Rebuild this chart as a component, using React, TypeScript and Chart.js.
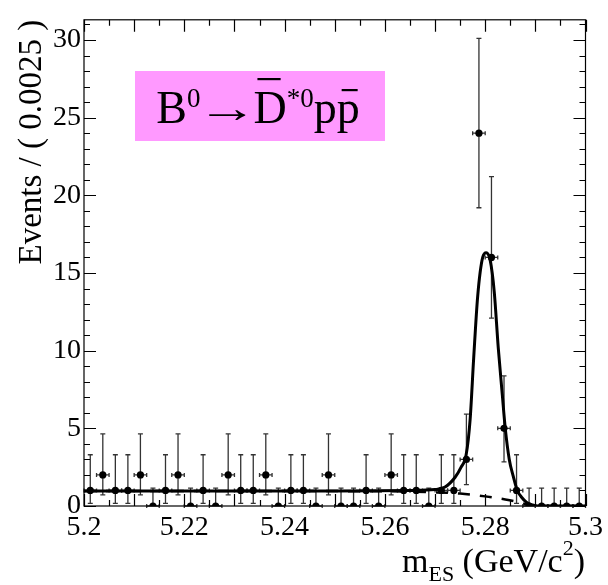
import React, { useEffect, useRef } from "react";
import { Chart, registerables } from "chart.js";

Chart.register(...registerables);

// ---- data ----
const binStart = 5.2;
const binWidth = 0.0025;
const counts = [
  1, 2, 1, 1, 2, 0, 1, 2, 0, 1,
  0, 2, 1, 1, 2, 0, 1, 1, 0, 2,
  0, 0, 1, 0, 2, 1, 1, 0, 1, 1,
  3, 24, 16, 5, 1, 0, 0, 0, 0, 0,
];
// Poisson error-bar ends, by bin count
const errLowByCount: Record<number, number> = { 0: 0, 1: 0.17, 2: 0.71, 3: 1.37, 5: 2.84, 16: 12.1, 24: 19.2 };
const errHighByCount: Record<number, number> = { 0: 1.15, 1: 3.3, 2: 4.64, 3: 5.92, 5: 8.38, 16: 21.2, 24: 30.1 };

// total fit (solid)
const fitX = [5.2, 5.25, 5.265, 5.27, 5.272, 5.274, 5.2752, 5.2762, 5.277, 5.2777, 5.2785, 5.2795, 5.2802, 5.281, 5.2818, 5.2826, 5.2834, 5.284, 5.2848, 5.2856, 5.2864, 5.2873, 5.2882, 5.2892, 5.2905, 5.3];
const fitY = [0.97, 0.97, 1.0, 1.06, 1.22, 1.85, 2.5, 3.3, 5.6, 9.5, 13.5, 16.0, 16.3, 15.8, 13.8, 10.2, 7.2, 5.0, 3.0, 1.9, 1.0, 0.55, 0.25, 0.08, 0, 0];
// background (dashed)
const bkgX = [5.2, 5.26, 5.27, 5.275, 5.28, 5.284, 5.287, 5.2885, 5.2895, 5.3];
const bkgY = [0.97, 0.95, 0.88, 0.8, 0.62, 0.42, 0.22, 0.08, 0, 0];

const xTickValues = [5.2, 5.22, 5.24, 5.26, 5.28, 5.3];
const xTickLabels = ["5.2", "5.22", "5.24", "5.26", "5.28", "5.3"];
const yTickValues = [0, 5, 10, 15, 20, 25, 30];
const yTickLabels = ["0", "5", "10", "15", "20", "25", "30"];

const yAxisTitle = "Events / ( 0.0025 )";
const SERIF = "Liberation Serif";

Chart.defaults.font.family = SERIF;

const decoPlugin = {
  id: "deco",
  beforeDatasetsDraw(chart: any) {
    const { ctx, scales } = chart;
    const xs = scales.x, ys = scales.y;
    ctx.save();
    ctx.strokeStyle = "#333";
    ctx.lineWidth = 1.3;
    counts.forEach((c, i) => {
      const xc = binStart + (i + 0.5) * binWidth;
      const px = xs.getPixelForValue(xc);
      const lo = ys.getPixelForValue(errLowByCount[c]);
      const hi = ys.getPixelForValue(errHighByCount[c]);
      const py = ys.getPixelForValue(c);
      const xl = xs.getPixelForValue(xc - binWidth / 2);
      const xr = xs.getPixelForValue(xc + binWidth / 2);
      ctx.beginPath();
      ctx.moveTo(px, lo); ctx.lineTo(px, hi);
      ctx.moveTo(px - 2.5, hi); ctx.lineTo(px + 2.5, hi);
      ctx.moveTo(px - 2.5, lo); ctx.lineTo(px + 2.5, lo);
      ctx.moveTo(xl, py); ctx.lineTo(xr, py);
      ctx.moveTo(xl, py - 2); ctx.lineTo(xl, py + 2);
      ctx.moveTo(xr, py - 2); ctx.lineTo(xr, py + 2);
      ctx.stroke();
    });
    ctx.restore();
  },
  afterDraw(chart: any) {
    const { ctx, scales, chartArea } = chart;
    const xs = scales.x, ys = scales.y;
    const { left, right, top, bottom } = chartArea;
    ctx.save();
    // frame
    ctx.strokeStyle = "#000";
    ctx.lineWidth = 1.2;
    ctx.strokeRect(left, top, right - left, bottom - top);
    // y ticks (both sides, inward)
    ctx.beginPath();
    for (let v = 0; v <= 31; v += 1) {
      const py = Math.round(ys.getPixelForValue(v)) + 0.5;
      const len = v % 5 === 0 ? 12 : 6;
      ctx.moveTo(left, py); ctx.lineTo(left + len, py);
      ctx.moveTo(right, py); ctx.lineTo(right - len, py);
    }
    // x ticks (both sides, inward)
    for (let k = 0; k <= 20; k++) {
      const v = 5.2 + k * 0.005;
      const px = Math.round(xs.getPixelForValue(v)) + 0.5;
      const len = k % 2 === 0 ? 12 : 6;
      ctx.moveTo(px, bottom); ctx.lineTo(px, bottom - len);
      ctx.moveTo(px, top); ctx.lineTo(px, top + len);
    }
    ctx.stroke();

    // y axis title
    ctx.fillStyle = "#000";
    ctx.font = `33px ${SERIF}`;
    ctx.save();
    ctx.translate(41, top);
    ctx.rotate(-Math.PI / 2);
    ctx.textAlign = "right";
    ctx.textBaseline = "alphabetic";
    ctx.fillText(yAxisTitle, 0, 0);
    ctx.restore();

    // x axis title: m_ES (GeV/c^2), right aligned
    const parts = [
      { t: "m", s: 34, dy: 0 },
      { t: "ES", s: 22, dy: 9 },
      { t: " (GeV/c", s: 34, dy: 0 },
      { t: "2", s: 22, dy: -17 },
      { t: ")", s: 34, dy: 0 },
    ];
    let total = 0;
    parts.forEach((p) => { ctx.font = `${p.s}px ${SERIF}`; total += ctx.measureText(p.t).width; });
    let x = 585 - total;
    const base = 572;
    ctx.textAlign = "left";
    parts.forEach((p) => {
      ctx.font = `${p.s}px ${SERIF}`;
      ctx.fillText(p.t, x, base + p.dy);
      x += ctx.measureText(p.t).width;
    });

    // decay label box
    ctx.fillStyle = "#ff99ff";
    ctx.fillRect(135, 71, 250, 70);
    ctx.fillStyle = "#000";
    const F = 46;
    const tb = 123;
    const tp = [
      { t: "B", s: F, dy: 0, bar: 0, sx: 1, pre: 0, gap: 0 },
      { t: "0", s: 27, dy: -16, bar: 0, sx: 1, pre: 0, gap: 0 },
      { t: "\u2192", s: 42, dy: -1, bar: 0, sx: 1.45, pre: -4, gap: -4 },
      { t: "D", s: F, dy: 0, bar: 1, sx: 1, pre: 0, gap: 0 },
      { t: "*0", s: 27, dy: -16, bar: 0, sx: 1, pre: 0, gap: 0 },
      { t: "p", s: F, dy: 0, bar: 0, sx: 1, pre: 0, gap: 0 },
      { t: "p", s: F, dy: 0, bar: 2, sx: 1, pre: 0, gap: 0 },
    ];
    let w = 0;
    tp.forEach((p) => { ctx.font = `${p.s}px ${SERIF}`; w += ctx.measureText(p.t).width * p.sx + p.pre + p.gap; });
    let tx = 258 - w / 2;
    tp.forEach((p) => {
      ctx.font = `${p.s}px ${SERIF}`;
      const mw = ctx.measureText(p.t).width;
      tx += p.pre;
      ctx.save();
      ctx.translate(tx, tb + p.dy);
      ctx.scale(p.sx, 1);
      ctx.fillText(p.t, 0, 0);
      ctx.restore();
      if (p.bar === 1) ctx.fillRect(tx + 4, tb - 45, mw - 10, 2.2);
      if (p.bar === 2) ctx.fillRect(tx + 5, tb - 34, mw - 7, 2.2);
      tx += mw * p.sx + p.gap;
    });
    ctx.restore();
  },
};

export default function App() {
  const ref = useRef<HTMLCanvasElement | null>(null);
  useEffect(() => {
    if (!ref.current) return;
    const points = counts.map((c, i) => ({ x: binStart + (i + 0.5) * binWidth, y: c }));
    const tickFont = { family: SERIF, size: 28, style: "normal" as const, weight: "normal" as const, lineHeight: 1.2 };
    const chart = new Chart(ref.current, {
      type: "scatter",
      data: {
        datasets: [
          {
            data: points,
            showLine: false,
            pointRadius: 3.6,
            pointBackgroundColor: "#000",
            pointBorderColor: "#000",
            pointBorderWidth: 0,
          } as any,
          {
            type: "line",
            data: fitX.map((x, i) => ({ x, y: fitY[i] })),
            borderColor: "#000",
            borderWidth: 3,
            pointRadius: 0,
            cubicInterpolationMode: "monotone",
            fill: false,
          } as any,
          {
            type: "line",
            data: bkgX.map((x, i) => ({ x, y: bkgY[i] })),
            borderColor: "#000",
            borderWidth: 2.5,
            borderDash: [12, 10],
            pointRadius: 0,
            cubicInterpolationMode: "monotone",
            fill: false,
          } as any,
        ],
      },
      options: {
        responsive: false,
        animation: false,
        events: [],
        layout: { padding: { top: 14, right: 21, left: 0, bottom: 0 } },
        plugins: { legend: { display: false }, tooltip: { enabled: false }, title: { display: false } },
        scales: {
          x: {
            type: "linear",
            min: 5.2,
            max: 5.3,
            grid: { display: false, drawTicks: false },
            border: { display: false },
            afterBuildTicks: (s: any) => { s.ticks = xTickValues.map((v) => ({ value: v })); },
            afterFit: (s: any) => { s.height = 79; },
            ticks: {
              autoSkip: false,
              maxRotation: 0,
              padding: 5,
              color: "#000",
              font: tickFont,
              callback: (_v: any, i: number) => xTickLabels[i],
            },
          },
          y: {
            type: "linear",
            min: 0,
            max: 31.3,
            grid: { display: false, drawTicks: false },
            border: { display: false },
            afterBuildTicks: (s: any) => { s.ticks = yTickValues.map((v) => ({ value: v })); },
            afterFit: (s: any) => { s.width = 84; },
            ticks: {
              autoSkip: false,
              padding: 3,
              color: "#000",
              font: tickFont,
              callback: (_v: any, i: number) => yTickLabels[i],
            },
          },
        },
      },
      plugins: [decoPlugin],
    });
    return () => chart.destroy();
  }, []);
  return (
    <div style={{ position: "absolute", left: 0, top: 0, width: 608, height: 585, background: "#fff" }}>
      <canvas ref={ref} width={608} height={585} />
    </div>
  );
}
